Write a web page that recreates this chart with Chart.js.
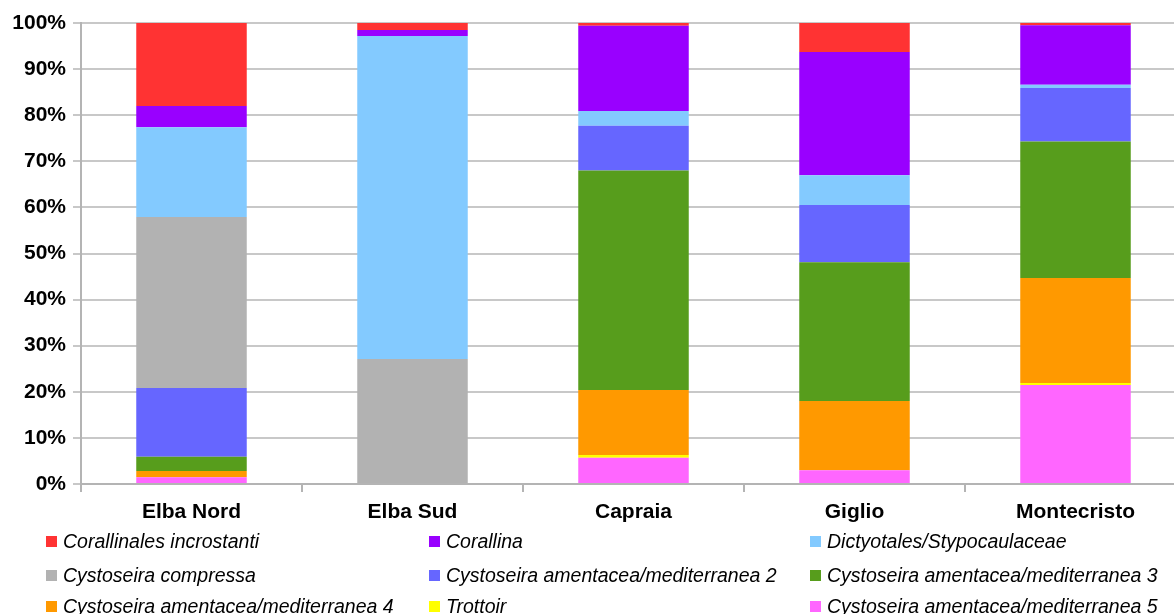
<!DOCTYPE html>
<html lang="it">
<head>
<meta charset="UTF-8">
<title>Copertura percentuale</title>
<script src="https://cdn.jsdelivr.net/npm/chart.js"></script>
<style>
  html, body { margin: 0; padding: 0; background: #fff; overflow: hidden; }
  body { width: 1174px; height: 614px; position: relative; font-family: "Liberation Sans", Arial, sans-serif; }
  #wrap { position: absolute; left: 0; top: 0; width: 1187px; height: 528px; }
  #legend { position: absolute; left: 0; top: 524px; width: 1174px; height: 90px; }
  .item { position: absolute; font-style: italic; font-size: 19.5px; color: #000; white-space: nowrap; line-height: 22px; }
  .box { position: absolute; width: 11px; height: 11px; left: -17px; top: 6px; }
</style>
</head>
<body>
<div id="wrap"><canvas id="chart"></canvas></div>
<div id="legend"></div>

<script>
// categorie (stazioni)
const stazioni = ['Elba Nord', 'Elba Sud', 'Capraia', 'Giglio', 'Montecristo'];
const yTicks = [0, 10, 20, 30, 40, 50, 60, 70, 80, 90, 100];

// percentuali
const corallinalesIncrostanti = [18.0, 1.5, 0.6, 6.3, 0.5];
const corallina = [4.6, 1.3, 18.5, 26.7, 12.9];
const dictyotales = [19.5, 70.1, 3.2, 6.5, 0.7];
const cystCompressa = [37.1, 27.1, 0, 0, 0];
const cystAmentacea2 = [14.9, 0, 9.7, 12.4, 11.6];
const cystAmentacea3 = [3.1, 0, 47.6, 30.1, 29.6];
const cystAmentacea4 = [1.35, 0, 14.1, 15.0, 22.8];
const trottoir = [0, 0, 0.6, 0, 0.4];
const cystAmentacea5 = [1.45, 0, 5.7, 3.0, 21.5];

// ordine della legenda (3 colonne)
const serie = [
  { label: 'Corallinales incrostanti', data: corallinalesIncrostanti, color: '#FF3333' },
  { label: 'Corallina', data: corallina, color: '#9900FF' },
  { label: 'Dictyotales/Stypocaulaceae', data: dictyotales, color: '#83CAFF' },
  { label: 'Cystoseira compressa', data: cystCompressa, color: '#B2B2B2' },
  { label: 'Cystoseira amentacea/mediterranea 2', data: cystAmentacea2, color: '#6666FF' },
  { label: 'Cystoseira amentacea/mediterranea 3', data: cystAmentacea3, color: '#579D1C' },
  { label: 'Cystoseira amentacea/mediterranea 4', data: cystAmentacea4, color: '#FF9900' },
  { label: 'Trottoir', data: trottoir, color: '#FFFF00' },
  { label: 'Cystoseira amentacea/mediterranea 5', data: cystAmentacea5, color: '#FF66FF' }
];

// in Chart.js il primo dataset sta in basso: invertiamo
const datasets = serie.slice().reverse().map(s => ({
  label: s.label,
  data: s.data,
  backgroundColor: s.color,
  borderWidth: 0,
  barPercentage: 0.5,
  categoryPercentage: 1.0
}));

const ctx = document.getElementById('chart').getContext('2d');
new Chart(ctx, {
  type: 'bar',
  data: { labels: stazioni, datasets: datasets },
  options: {
    responsive: true,
    maintainAspectRatio: false,
    animation: false,
    layout: { padding: { top: 23, right: 1, left: 0, bottom: 0 } },
    plugins: { legend: { display: false }, tooltip: { enabled: false } },
    scales: {
      x: {
        stacked: true,
        grid: { offset: true, drawOnChartArea: false, drawTicks: true, tickLength: 8, color: '#b4b4b4', lineWidth: 2 },
        border: { color: '#b4b4b4', width: 2 },
        ticks: { color: '#000', font: { family: 'Liberation Sans', size: 21, weight: 'bold' }, padding: 8 },
        afterFit: s => { s.height = 44; }
      },
      y: {
        stacked: true,
        min: 0,
        max: 100,
        afterBuildTicks: s => { s.ticks = yTicks.map(v => ({ value: v })); },
        grid: { color: '#c8c8c8', lineWidth: 2, tickLength: 8 },
        border: { color: '#b4b4b4', width: 2 },
        ticks: {
          color: '#000',
          font: { family: 'Liberation Sans', size: 21, weight: 'bold' },
          padding: 7,
          callback: v => v + '%'
        },
        afterFit: s => { s.width = 81; }
      }
    }
  }
});

// legenda HTML
const legend = document.getElementById('legend');
const colX = [63, 446, 827];
const rowY = [6, 40, 71];
serie.forEach((s, i) => {
  const el = document.createElement('div');
  el.className = 'item';
  el.style.left = colX[i % 3] + 'px';
  el.style.top = rowY[Math.floor(i / 3)] + 'px';
  const box = document.createElement('span');
  box.className = 'box';
  box.style.background = s.color;
  el.appendChild(box);
  el.appendChild(document.createTextNode(s.label));
  legend.appendChild(el);
});
</script>
</body>
</html>
